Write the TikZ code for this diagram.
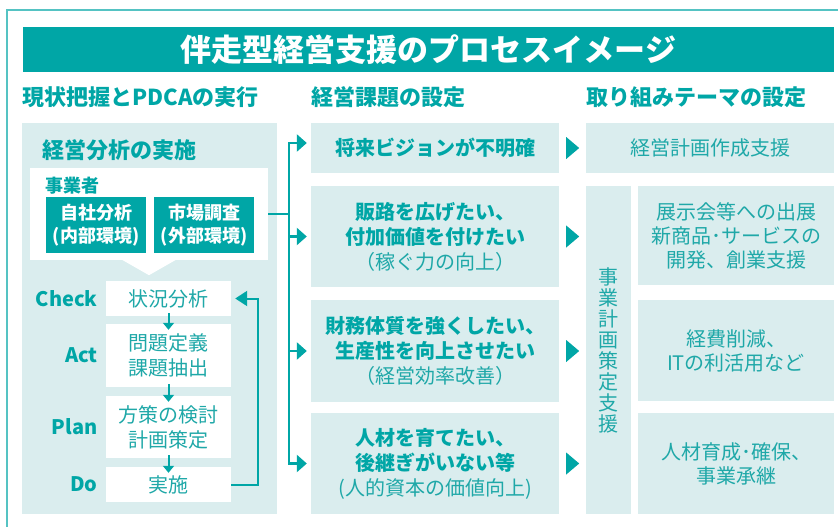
\documentclass[tikz,border=0pt]{standalone}
\usepackage{fontspec}
\setmainfont{Noto Sans CJK JP}
\usepackage{tikz}
\usetikzlibrary{arrows.meta}
\usetikzlibrary{positioning}
\definecolor{brand}{HTML}{00A6A6}
\definecolor{pale}{HTML}{DAEDEE}
\definecolor{ink}{HTML}{1FA8A8}
\definecolor{rim}{HTML}{55C3C3}

\begin{document}
\begin{tikzpicture}[x=1pt,y=-1pt,
                    >={Triangle[length=10pt,width=17pt]},
                    head/.style={text=brand,font=\fontsize{22pt}{26pt}\selectfont\bfseries,inner sep=0pt},
                    darkbox/.style={fill=brand,text=white,font=\fontsize{18pt}{23pt}\selectfont\bfseries,align=center,minimum width=100pt,minimum height=56pt,inner sep=0pt},
                    pdca/.style={fill=white,text=ink,font=\fontsize{20pt}{25pt}\selectfont,align=center,minimum width=125pt,inner sep=0pt},
                    tag/.style={text=brand,font=\fontsize{20pt}{24pt}\selectfont\bfseries,inner sep=0pt},
                    issue/.style={fill=pale,text=brand,font=\fontsize{20pt}{25pt}\selectfont\bfseries,align=center,minimum width=248pt,inner sep=0pt},
                    theme/.style={fill=pale,text=ink,font=\fontsize{20pt}{24pt}\selectfont,align=center,minimum width=196pt,inner sep=0pt},
                    flow/.style={brand,line width=2.5pt},
                    dnarrow/.style={brand,line width=2pt,-{Triangle[length=7pt,width=11pt]},shorten <=-3pt,shorten >=-6pt}
                    ]
\useasboundingbox (0,0) rectangle (838,527);
\draw[rim,line width=1.5pt] (838,10) -- (7,10) -- (7,527);

% title
\node[fill=brand,text=white,font=\fontsize{31pt}{36pt}\selectfont\bfseries,minimum width=811pt,minimum height=45pt,inner sep=0pt] (title) at (428.5,49.5) {伴走型経営支援のプロセスイメージ};

\node[head,anchor=west] (h1) at (22,97) {現状把握とPDCAの実行};
\node[head,anchor=west] (h2) at (311,97) {経営課題の設定};
\node[head,anchor=west] (h3) at (586,97) {取り組みテーマの設定};

% PDCA
\node[fill=pale,minimum width=255pt,minimum height=391pt,inner sep=0pt] (left) at (149.5,318.5) {};
\node[head,anchor=west] (ana) at (42,150) {経営分析の実施};
\node[fill=white,minimum width=238pt,minimum height=92pt,inner sep=0pt] (who) at (149,214) {};
\fill[white] ([xshift=-28pt,yshift=1pt]who.south) -- ([xshift=28pt,yshift=1pt]who.south) -- ([yshift=-15pt]who.south) -- cycle;
\node[text=brand,font=\fontsize{18pt}{22pt}\selectfont\bfseries,anchor=west,inner sep=0pt] (biz) at (45,186) {事業者};
\node[darkbox] (own) at (96,225) {自社分析\\(内部環境)};
\node[darkbox] (mkt) at (204,225) {市場調査\\(外部環境)};

\node[pdca,minimum height=35pt] (chk) at (168.5,298.5) {状況分析};
\node[pdca,minimum height=63pt] (act) at (168.5,355.5) {問題定義\\課題抽出};
\node[pdca,minimum height=62pt] (pln) at (168.5,427) {方策の検討\\計画策定};
\node[pdca,minimum height=35pt] (do) at (168.5,484.5) {実施};

\node[tag,left=8pt of chk] (lchk) {Check};
\node[tag,left=8pt of act] (lact) {Act};
\node[tag,left=8pt of pln] (lpln) {Plan};
\node[tag,left=8pt of do] (ldo) {Do};

\foreach \a/\b in {chk/act,act/pln,pln/do}
  \draw[dnarrow] (\a) -- (\b);
\draw[brand,line width=2pt,-{Triangle[length=12pt,width=15pt]},shorten >=4pt] (do.east) -- ++(27,0) |- (chk.east);

% issues
\node[issue,minimum height=50pt] (m1) at (435,148) {将来ビジョンが不明確};
\node[issue,minimum height=101pt] (m2) at (435,236.5) {販路を広げたい、\\付加価値を付けたい\\\mdseries\color{ink}（稼ぐ力の向上）};
\node[issue,minimum height=102pt] (m3) at (435,351) {財務体質を強くしたい、\\生産性を向上させたい\\\mdseries\color{ink}（経営効率改善）};
\node[issue,minimum height=101pt] (m4) at (435,463.5) {人材を育てたい、\\後継ぎがいない等\\\mdseries\color{ink}(人的資本の価値向上)};

\draw[flow] (who.east) -- ++(21,0) coordinate (br);
\draw[flow,->,shorten >=4pt] (br) |- ([yshift=5pt]m1.west);
\foreach \m in {m2,m3,m4}
  \draw[flow,->,shorten >=4pt] (br) |- (\m.west);

\foreach \m in {m1,m2,m3,m4}
  \fill[brand] ([xshift=7pt,yshift=11pt]\m.east) -- ++(13,11) -- ++(-13,11) -- cycle;

% themes
\node[theme,minimum width=248pt,minimum height=50pt] (r0) at (710,148) {経営計画作成支援};
\node[theme,minimum width=45pt,minimum height=328pt,font=\fontsize{20pt}{21pt}\selectfont] (bp) at (608.5,350) {事\\業\\計\\画\\策\\定\\支\\援};
\node[theme,minimum height=99pt] (ra) at (736,235.5) {展示会等への出展\\新商品･サービスの\\開発、創業支援};
\node[theme,minimum height=101pt] (rb) at (736,350.5) {経費削減、\\ITの利活用など};
\node[theme,minimum height=101pt] (rc) at (736,463.5) {人材育成･確保、\\事業承継};
\end{tikzpicture}
\end{document}
